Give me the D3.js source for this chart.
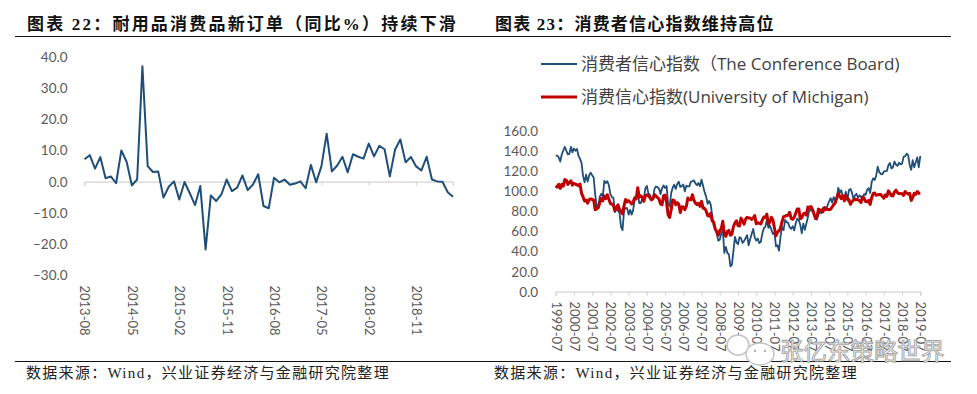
<!DOCTYPE html>
<html>
<head>
<meta charset="utf-8">
<script src="https://cdn.jsdelivr.net/npm/d3@7/dist/d3.min.js"></script>
<style>
  html, body { margin: 0; padding: 0; background: #fff; }
  svg { display: block; }
  .title { font-family: "Liberation Serif", "Noto Sans CJK SC", serif; font-size: 17px; font-weight: 700; fill: #111; letter-spacing: 2.2px; }
  .source { font-family: "Liberation Serif", "Noto Sans CJK SC", serif; font-size: 15px; fill: #222; letter-spacing: 1.3px; }
  .tick text { font-family: Lato, "Open Sans", sans-serif; font-size: 13.5px; fill: #595959; }
  .xlabels .tick text { font-size: 13px; }
  .legend { font-family: "Open Sans", "Noto Sans CJK SC", sans-serif; font-size: 17px; fill: #404040; }
</style>
</head>
<body>
<div id="chart"></div>
<script>
// 耐用品消费品新订单 同比%, 2013-08 .. 2019-06
const orders = [7.2, 8.5, 4.2, 7.9, 1.1, 1.7, -0.5, 10, 6.4, -1.2, 0.7, 37, 5, 3.1, 3.3,
    -5.1, -1.6, 0.1, -5.7, -0.1, -3.7, -7.5, -1.4, -21.7, -4.4, -6.2, -4.1, 0.7, -3, -1.9,
    2, -2.7, -0.9, 2.4, -7.8, -8.5, 1.3, -0.2, 0.7, -1, -0.6, 0.1, -2.1, 5.4, -0.2, 4.9,
    15.4, 3.3, 5.2, 8, 3, 8.8, 8, 7.4, 12.2, 8.1, 11.5, 10.4, 1.7, 10.3, 13.5, 6.2, 7.9,
    4.9, 3.6, 8, 0.7, 0.1, 0, -3.4, -4.8];
const ordersTicks = ['2013-08', '2014-05', '2015-02', '2015-11', '2016-08', '2017-05', '2018-02', '2018-11'];
const ordersAxis = [40, 30, 20, 10, 0, -10, -20, -30];

// The Conference Board, 1999-07 .. 2019-07
const confBoard = [136, 136, 134, 130, 137, 141,
    144.7, 140.8, 137.1, 137.7, 144.7, 139.2, 143, 140.8, 142.5, 135.8, 132.6, 128.6,
    115.7, 109.2, 116.9, 109.9, 116.1, 118.9, 116.3, 114, 97, 85.3, 84.9, 94.6,
    97.8, 95, 110.7, 108.5, 110.3, 106.3, 97.4, 94.5, 93.7, 79.6, 84.9, 80.7,
    78.8, 64.8, 61.4, 81, 83.6, 83.5, 77, 81.7, 77, 81.7, 92.5, 94.8,
    97.7, 88.5, 88.5, 93, 93.1, 102.8, 105.7, 98.2, 96.8, 92.9, 92.6, 102.7,
    105.1, 104.4, 103, 97.5, 103.1, 106.2, 103.6, 105.5, 87.5, 85.2, 98.3, 103.8,
    106.8, 102.7, 107.5, 109.8, 104.7, 105.4, 107, 100.2, 105.9, 105.1, 105.3, 110,
    110.2, 111.2, 108.2, 106.3, 108.5, 105.3, 111.9, 105.6, 99.5, 95.2, 87.8, 90.6,
    87.3, 76.4, 65.9, 62.8, 58.1, 51, 51.9, 58.5, 61.4, 38.8, 44.7, 38.6,
    37.4, 25.3, 26.9, 40.8, 54.8, 49.3, 47.4, 54.5, 53.4, 48.7, 50.6, 53.6,
    56.5, 46.4, 52.3, 57.7, 62.7, 54.3, 51, 53.2, 48.6, 49.9, 57.8, 63.4,
    64.8, 72, 63.8, 66, 61.7, 57.6, 59.2, 45.2, 46.4, 40.9, 55.2, 64.8,
    61.5, 71.6, 69.5, 68.7, 64.4, 62.7, 65.4, 61.3, 68.4, 73.1, 71.5, 66.7,
    58.4, 68, 61.9, 68.1, 74.3, 82.1, 81, 81.8, 80.2, 72.4, 72, 77.5,
    79.4, 78.3, 83.9, 81.7, 82.2, 86.4, 90.3, 93.4, 89, 94.5, 91, 93.1,
    103.8, 98.8, 101.4, 94.3, 94.6, 99.8, 91, 101.3, 102.6, 99.1, 92.6, 96.3,
    97.8, 94, 96.1, 94.7, 92.4, 97.4, 96.7, 101.8, 103.5, 98.6, 109.4, 113.3,
    111.6, 116.1, 124.9, 119.4, 117.6, 117.3, 120, 120.4, 120.6, 126.2, 128.6, 123.1,
    124.3, 130, 127, 125.6, 128.8, 127.1, 127.9, 134.7, 135.3, 137.9, 136.4, 126.6,
    121.7, 131.4, 124.2, 129.2, 134.1, 124.3, 135.7];

// University of Michigan, 1999-07 .. 2019-07
const michigan = [106, 104.5, 107.2, 103.2, 107.2, 105.4,
    112, 111.3, 107.1, 109.2, 110.7, 106.4, 108.3, 107.3, 106.8, 105.8, 107.6, 98.4,
    94.7, 90.6, 91.5, 88.4, 92, 92.6, 92.4, 91.5, 81.8, 82.7, 83.9, 88.8,
    93, 90.7, 95.7, 93, 96.9, 92.4, 88.1, 87.6, 86.1, 80.6, 84.2, 86.7,
    82.4, 79.9, 77.6, 86, 92.1, 89.7, 90.9, 89.3, 87.7, 89.6, 93.7, 92.6,
    103.8, 94.4, 95.8, 94.2, 90.2, 95.6, 96.7, 95.9, 94.2, 91.7, 92.8, 97.1,
    95.5, 94.1, 92.6, 87.7, 86.9, 96, 96.5, 89.1, 76.9, 74.2, 81.6, 91.5,
    91.2, 86.7, 88.9, 87.4, 79.1, 84.9, 84.7, 82, 85.4, 93.6, 92.1, 91.7,
    96.9, 91.3, 88.4, 87.1, 88.3, 85.3, 90.4, 83.4, 83.4, 80.9, 76.1, 75.5,
    78.4, 70.8, 69.5, 62.6, 59.8, 56.4, 61.2, 63, 70.3, 57.6, 55.3, 60.1,
    61.2, 56.3, 57.3, 65.1, 68.7, 70.8, 66, 65.7, 73.5, 70.6, 67.4, 72.5,
    74.4, 73.6, 73.6, 72.2, 73.6, 76, 67.8, 68.9, 68.2, 67.7, 71.6, 74.5,
    74.2, 77.5, 67.5, 69.8, 74.3, 71.5, 63.7, 55.8, 59.5, 60.8, 63.7, 69.9,
    75, 75.3, 76.2, 76.4, 79.3, 73.2, 72.3, 74.3, 78.3, 82.6, 82.7, 72.9,
    73.8, 77.6, 78.6, 76.4, 84.5, 84.1, 85.1, 82.1, 77.5, 73.2, 75.1, 82.5,
    81.2, 81.6, 80, 84.1, 81.9, 82.5, 81.8, 82.5, 84.6, 86.9, 88.8, 93.6,
    98.1, 95.4, 93, 95.9, 90.7, 96.1, 93.1, 91.9, 87.2, 90, 91.3, 92.6,
    92, 91.7, 91, 89, 94.7, 93.5, 90, 89.8, 91.2, 87.2, 93.8, 98.2,
    98.5, 96.3, 96.9, 97, 97.1, 95, 93.4, 96.8, 95.1, 100.7, 98.5, 95.9,
    95.7, 99.7, 101.4, 98.8, 98, 98.2, 97.9, 96.2, 100.1, 98.6, 97.5, 98.3,
    91.2, 93.8, 98.4, 97.2, 100, 98.2, 98.4];
const confTicks = ['1999-07', '2000-07', '2001-07', '2002-07', '2003-07', '2004-07', '2005-07',
    '2006-07', '2007-07', '2008-07', '2009-07', '2010-07', '2011-07', '2012-07', '2013-07',
    '2014-07', '2015-07', '2016-07', '2017-07', '2018-07', '2019-07'];
const confAxis = [160, 140, 120, 100, 80, 60, 40, 20, 0];

const BLUE = '#1f4e79';
const RED = '#c00000';
const GRID = '#d4d4d4';

const width = 977;
const height = 394;

const svg = d3.select('#chart')
    .append('svg')
    .attr('width', width)
    .attr('height', height);

// month labels for a series starting at firstMonth
const monthsFrom = (firstMonth, n) => {
    const start = d3.timeParse('%Y-%m')(firstMonth);
    return d3.range(n).map(i => d3.timeFormat('%Y-%m')(d3.timeMonth.offset(start, i)));
};

const styleAxis = (g) => {
    g.select('.domain').attr('stroke', GRID).attr('stroke-width', 1.2);
    g.selectAll('.tick line').attr('stroke', GRID).attr('stroke-width', 1);
};

const xLabels = (g, x, ticks, y) => {
    const axis = g.append('g')
        .attr('class', 'xlabels')
        .attr('transform', 'translate(0,' + y + ')')
        .call(d3.axisBottom(x).tickValues(ticks).tickSize(0));
    axis.select('.domain').remove();
    axis.selectAll('.tick text')
        .attr('transform', 'rotate(90)')
        .attr('x', 0)
        .attr('y', 0)
        .attr('dy', '0.35em')
        .attr('text-anchor', 'start');
};

const yLabels = (g, y, ticks, right) => {
    const axis = g.append('g')
        .attr('transform', 'translate(' + right + ',0)')
        .call(d3.axisLeft(y).tickValues(ticks).tickSize(0).tickPadding(0).tickFormat(d3.format('.1f')));
    axis.select('.domain').remove();
};

// left chart
const leftMonths = monthsFrom('2013-08', orders.length);
const x1 = d3.scalePoint().domain(leftMonths).range([84.5, 453]);
const y1 = d3.scaleLinear().domain([-30, 40]).range([275.3, 56.9]);

const left = svg.append('g');
yLabels(left, y1, ordersAxis, 67.5);
left.append('g')
    .attr('transform', 'translate(0,' + y1(0) + ')')
    .call(d3.axisBottom(x1).tickValues(ordersTicks).tickSize(4).tickFormat(''))
    .call(styleAxis);
xLabels(left, x1, ordersTicks, 285.5);

left.append('path')
    .datum(orders)
    .attr('fill', 'none')
    .attr('stroke', BLUE)
    .attr('stroke-width', 2)
    .attr('stroke-linejoin', 'round')
    .attr('d', d3.line().x((d, i) => x1(leftMonths[i])).y(d => y1(d)));

// right chart
const rightMonths = monthsFrom('1999-07', confBoard.length);
const x2 = d3.scalePoint().domain(rightMonths).range([555.7, 920.3]);
const y2 = d3.scaleLinear().domain([0, 160]).range([291.7, 131.5]);

const right = svg.append('g');
yLabels(right, y2, confAxis, 538);
right.append('g')
    .attr('transform', 'translate(0,' + y2(0) + ')')
    .call(d3.axisBottom(x2).tickValues(confTicks).tickSize(4).tickFormat(''))
    .call(styleAxis);
xLabels(right, x2, confTicks, 301.5);

const line2 = d3.line().x((d, i) => x2(rightMonths[i])).y(d => y2(d));
right.append('path')
    .datum(confBoard)
    .attr('fill', 'none')
    .attr('stroke', BLUE)
    .attr('stroke-width', 1.8)
    .attr('stroke-linejoin', 'round')
    .attr('d', line2);
right.append('path')
    .datum(michigan)
    .attr('fill', 'none')
    .attr('stroke', RED)
    .attr('stroke-width', 3)
    .attr('stroke-linejoin', 'round')
    .attr('d', line2);

// legend
const legendItems = [
    { label: '消费者信心指数（The Conference Board)', color: BLUE, w: 1.8, y: 64 },
    { label: '消费信心指数(University of Michigan)', color: RED, w: 3, y: 97 }
];
legendItems.forEach(item => {
    svg.append('line')
        .attr('x1', 541).attr('x2', 577)
        .attr('y1', item.y).attr('y2', item.y)
        .attr('stroke', item.color)
        .attr('stroke-width', item.w);
    svg.append('text')
        .attr('class', 'legend')
        .attr('x', 581)
        .attr('y', item.y + 5.5)
        .text(item.label);
});

// titles, rules, sources
svg.append('text').attr('class', 'title').attr('x', 27).attr('y', 30).text('图表 22：耐用品消费品新订单（同比%）持续下滑');
svg.append('text').attr('class', 'title').attr('x', 495).attr('y', 30).style('letter-spacing', '1.2px').text('图表 23：消费者信心指数维持高位');

[36.5, 361.5].forEach(y => {
    svg.append('line')
        .attr('x1', 15).attr('x2', 951)
        .attr('y1', y).attr('y2', y)
        .attr('stroke', '#111')
        .attr('stroke-width', 1);
});

svg.append('text').attr('class', 'source').attr('x', 26).attr('y', 377.5).text('数据来源：Wind，兴业证券经济与金融研究院整理');
svg.append('text').attr('class', 'source').attr('x', 494).attr('y', 377.5).text('数据来源：Wind，兴业证券经济与金融研究院整理');

// watermark
const mark = svg.append('g');
mark.append('ellipse').attr('cx', 738).attr('cy', 345).attr('rx', 11).attr('ry', 10)
    .attr('fill', '#fff').attr('stroke', '#c4c4c4').attr('stroke-width', 1.5);
mark.append('ellipse').attr('cx', 760).attr('cy', 354).attr('rx', 14).attr('ry', 11)
    .attr('fill', '#fff').attr('stroke', '#c4c4c4').attr('stroke-width', 1.5);
[755, 765].forEach(cx => {
    mark.append('circle').attr('cx', cx).attr('cy', 351).attr('r', 1.2).attr('fill', '#b0b0b0');
});
mark.append('text')
    .attr('x', 780).attr('y', 360)
    .attr('font-family', '"Noto Sans CJK SC", sans-serif')
    .attr('font-size', 23.5)
    .attr('fill', '#fff')
    .attr('stroke', '#a8a8a8')
    .attr('stroke-width', 1)
    .text('张亿东策略世界');
</script>
</body>
</html>
